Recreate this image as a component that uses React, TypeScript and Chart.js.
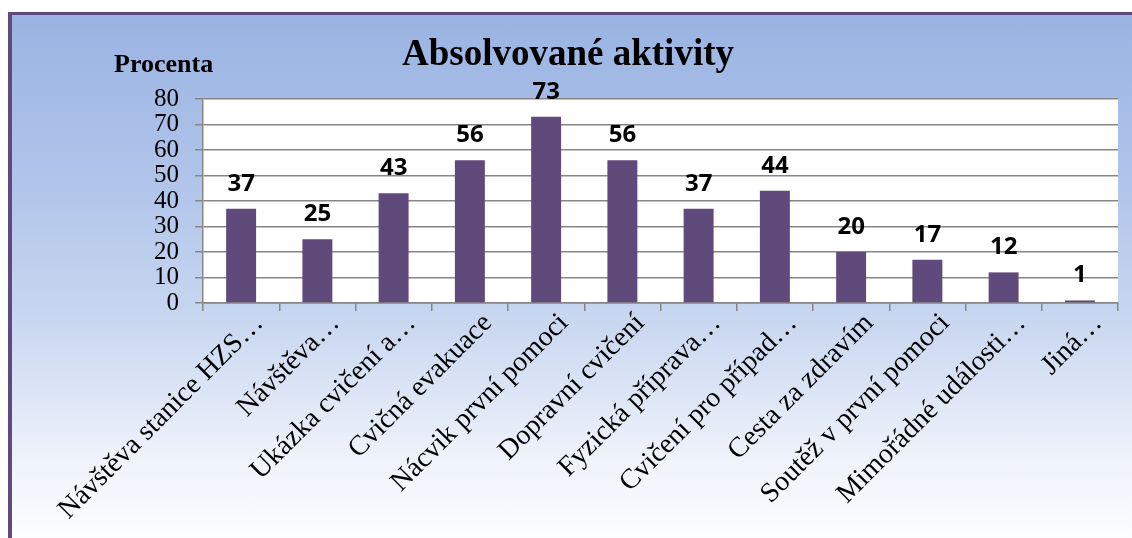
import React, { useEffect, useRef } from "react";
import { Chart, registerables } from "chart.js";

Chart.register(...registerables);

const categories: string[] = [
  "Návštěva stanice HZS…",
  "Návštěva…",
  "Ukázka cvičení a…",
  "Cvičná evakuace",
  "Nácvik první pomoci",
  "Dopravní cvičení",
  "Fyzická příprava…",
  "Cvičení pro případ…",
  "Cesta za zdravím",
  "Soutěž v první pomoci",
  "Mimořádné události…",
  "Jiná…",
];

const values: number[] = [37, 25, 43, 56, 73, 56, 37, 44, 20, 17, 12, 1];

const yTicks: number[] = [0, 10, 20, 30, 40, 50, 60, 70, 80];

const chartTitle = "Absolvované aktivity";
const yAxisTitle = "Procenta";

const W = 1132;
const H = 538;

const GRID = "#868686";
const BAR = "#604A7B";
const SERIF = "'Liberation Serif', 'Times New Roman', serif";

export default function App() {
  const ref = useRef<HTMLCanvasElement | null>(null);

  useEffect(() => {
    const canvas = ref.current;
    if (!canvas) return;

    const plotBg = {
      id: "plotBg",
      beforeDraw(chart: any) {
        const { ctx, chartArea } = chart;
        ctx.save();
        ctx.fillStyle = "#ffffff";
        ctx.fillRect(
          chartArea.left,
          chartArea.top,
          chartArea.right - chartArea.left,
          chartArea.bottom - chartArea.top
        );
        ctx.restore();
      },
    };

    const texts = {
      id: "texts",
      afterDraw(chart: any) {
        const { ctx } = chart;
        ctx.save();
        ctx.fillStyle = "#000";
        ctx.textBaseline = "alphabetic";
        ctx.font = "bold 37px " + SERIF;
        ctx.textAlign = "center";
        ctx.fillText(chartTitle, 568, 65);
        ctx.font = "bold 26px " + SERIF;
        ctx.textAlign = "left";
        ctx.fillText(yAxisTitle, 114, 72);
        ctx.restore();
      },
    };

    const dataLabels = {
      id: "dataLabels",
      afterDatasetsDraw(chart: any) {
        const { ctx } = chart;
        const meta = chart.getDatasetMeta(0);
        const ds = chart.data.datasets[0].data as number[];
        ctx.save();
        ctx.fillStyle = "#000";
        ctx.font = "bold 24px 'Open Sans', 'Noto Sans', sans-serif";
        ctx.textAlign = "center";
        ctx.textBaseline = "alphabetic";
        meta.data.forEach((el: any, i: number) => {
          ctx.fillText(String(ds[i]), el.x, el.y - 18);
        });
        ctx.restore();
      },
    };

    const chart = new Chart(canvas, {
      type: "bar",
      data: {
        labels: categories,
        datasets: [
          {
            data: values,
            backgroundColor: BAR,
            borderWidth: 0,
            barPercentage: 0.393,
            categoryPercentage: 1,
          },
        ],
      },
      options: {
        animation: false,
        responsive: false,
        devicePixelRatio: 1,
        layout: { padding: { top: 99, right: 14, left: 0, bottom: 0 } },
        plugins: {
          legend: { display: false },
          title: { display: false },
          tooltip: { enabled: false },
        },
        scales: {
          x: {
            grid: {
              display: true,
              drawOnChartArea: false,
              drawTicks: true,
              tickLength: 8,
              color: GRID,
              lineWidth: 1.5,
              offset: true,
            },
            border: { display: true, color: GRID, width: 1.5 },
            ticks: {
              color: "#000",
              font: { family: SERIF, size: 28 },
              minRotation: 45,
              maxRotation: 45,
              autoSkip: false,
              padding: -4,
              labelOffset: 18,
            },
            afterFit: (s: any) => {
              s.height = H - 303;
            },
          },
          y: {
            min: 0,
            max: 80,
            afterBuildTicks: (s: any) => {
              s.ticks = yTicks.map((v) => ({ value: v }));
            },
            grid: {
              color: GRID,
              lineWidth: 1.5,
              tickLength: 8,
              drawTicks: true,
            },
            border: { display: true, color: GRID, width: 1.5 },
            ticks: {
              color: "#000",
              font: { family: SERIF, size: 25, lineHeight: 1 },
              padding: 16,
              autoSkip: false,
              stepSize: 10,
            },
            afterFit: (s: any) => {
              s.width = 203;
            },
          },
        },
      },
      plugins: [plotBg, dataLabels, texts],
    });

    return () => chart.destroy();
  }, []);

  return (
    <div style={{ position: "fixed", left: 0, top: 0, width: W, height: H, overflow: "hidden", background: "#fff" }}>
      <div
        style={{
          position: "absolute",
          left: 8,
          top: 12,
          width: W,
          height: H,
          borderLeft: "4px solid #5E4A7E",
          borderTop: "3px solid #5E4A7E",
          background:
            "linear-gradient(to bottom, #99B3E2 0%, #B4C7EB 35%, #CAD8F0 58%, #EEF2FA 82%, #FFFFFF 100%)",
        }}
      />
      <canvas
        ref={ref}
        width={W}
        height={H}
        style={{ position: "absolute", left: 0, top: 0, width: W, height: H }}
      />
    </div>
  );
}
